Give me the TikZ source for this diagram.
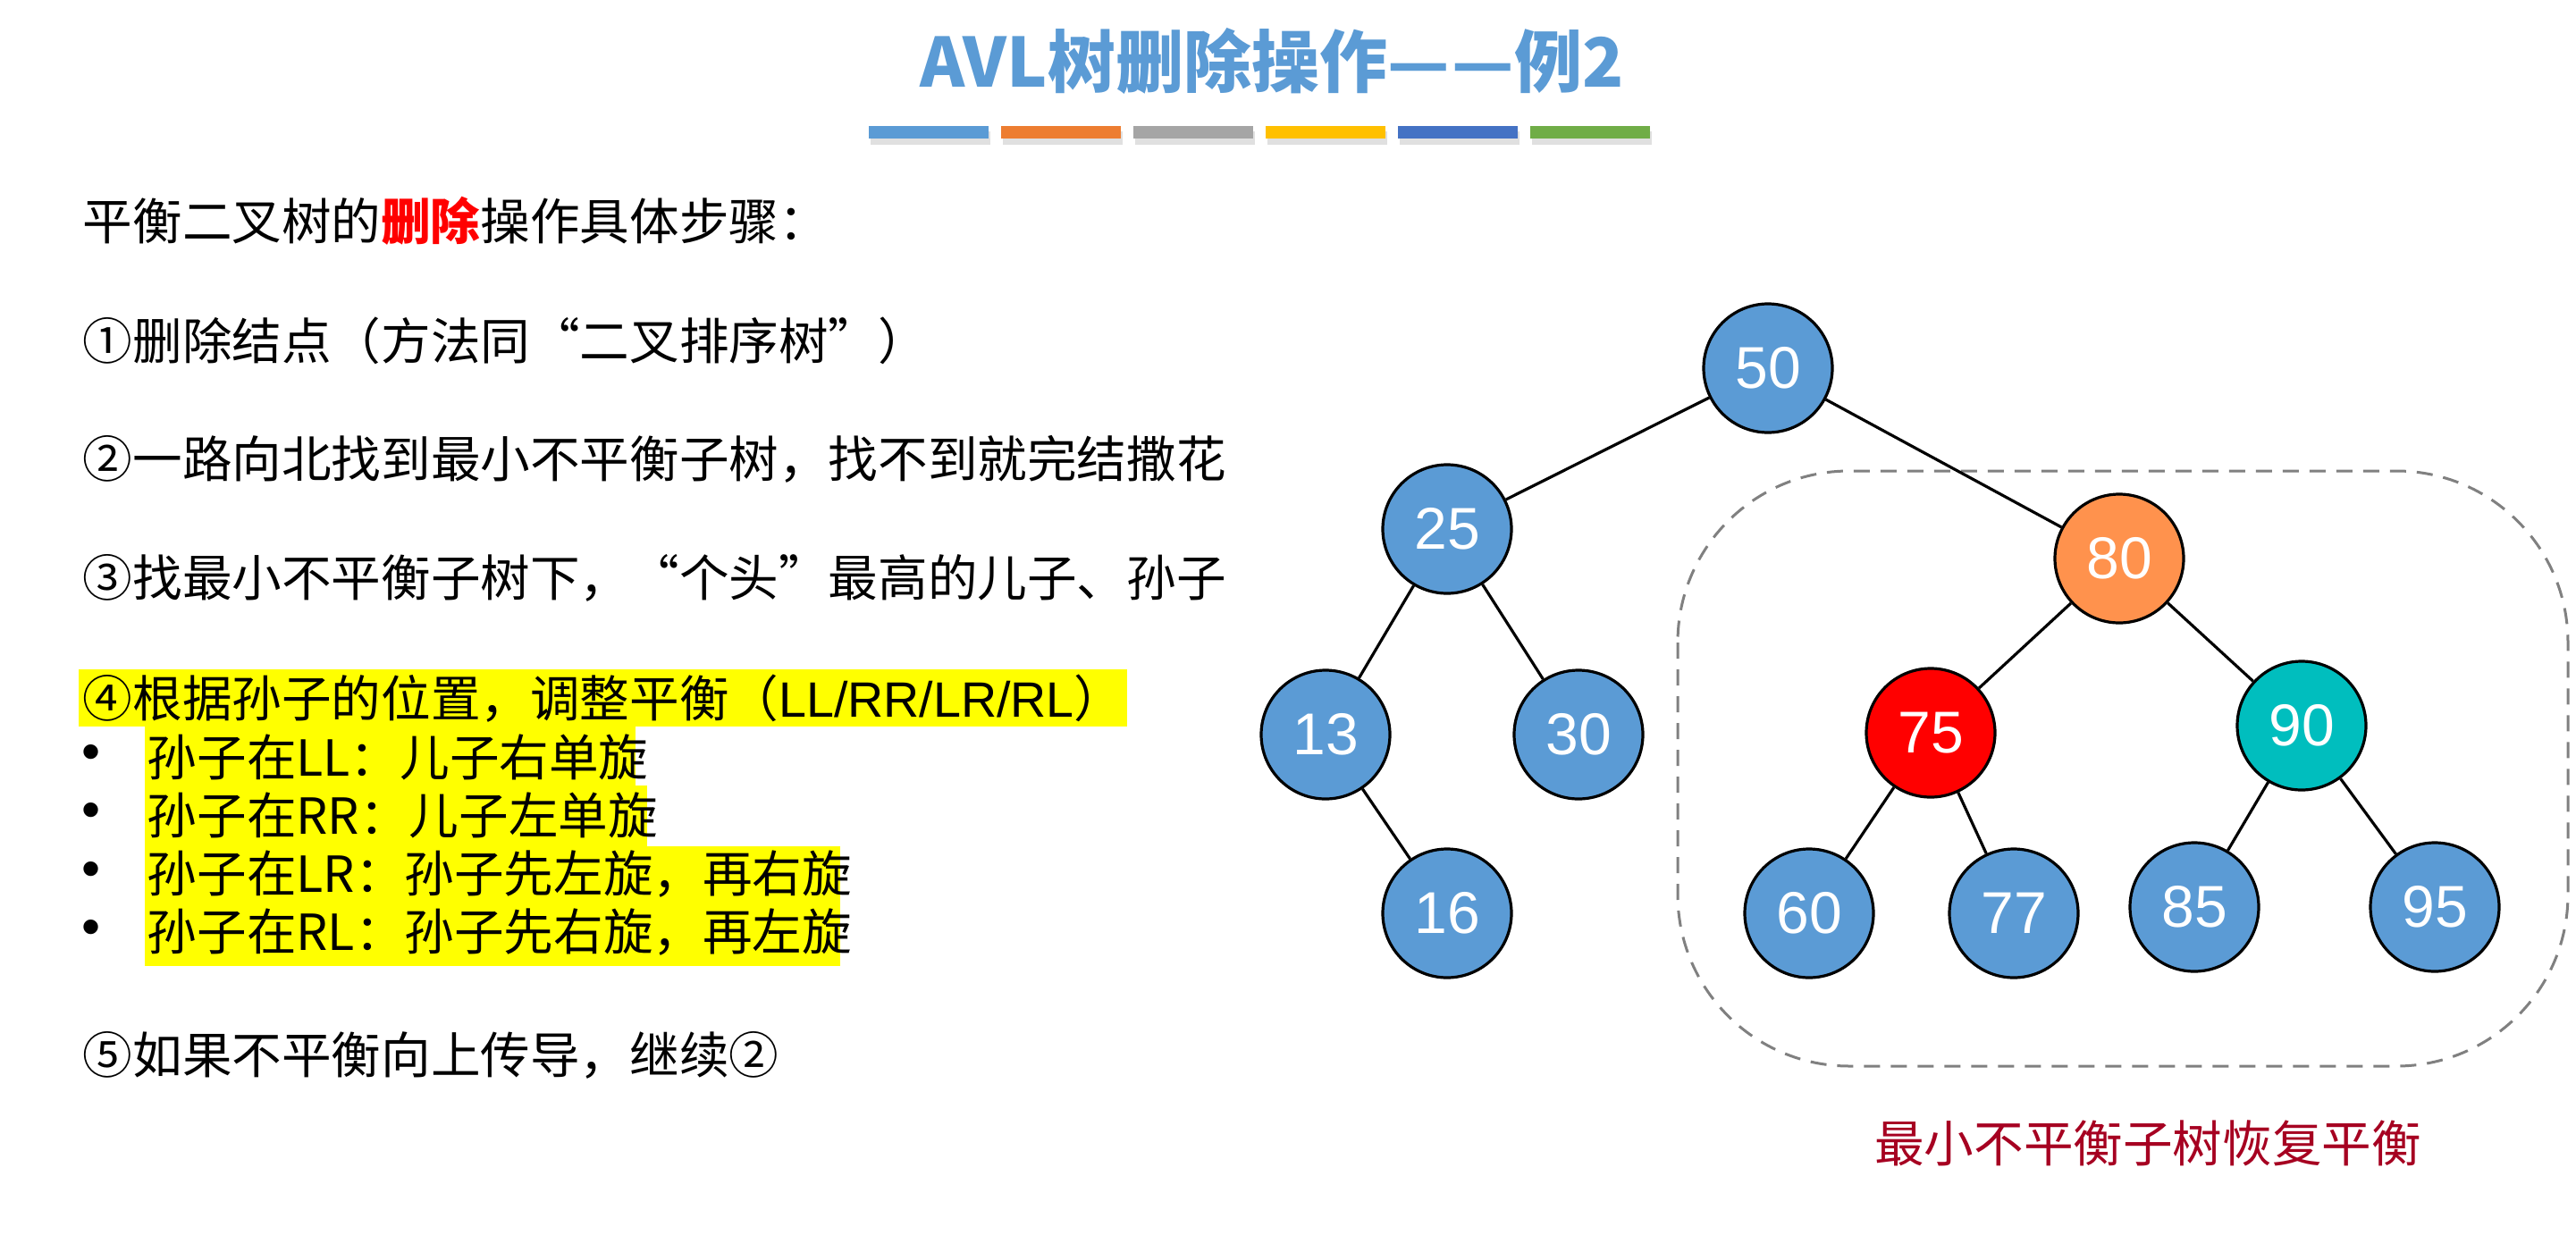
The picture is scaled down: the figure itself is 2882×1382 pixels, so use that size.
\documentclass[tikz,border=0pt]{standalone}
\usepackage{fontspec}
\setmainfont{Liberation Sans}
\newfontfamily\cjk{Noto Sans CJK SC}
\newfontfamily\lat{Liberation Sans}

\definecolor{titleblue}{RGB}{91,155,213}
\definecolor{nodeblue}{RGB}{91,155,213}
\definecolor{nodeorange}{RGB}{255,146,77}
\definecolor{nodered}{RGB}{255,0,0}
\definecolor{nodeteal}{RGB}{0,190,190}
\definecolor{capred}{RGB}{166,0,33}
\definecolor{markyellow}{RGB}{255,255,0}
\definecolor{barA}{RGB}{91,155,213}
\definecolor{barB}{RGB}{237,125,49}
\definecolor{barC}{RGB}{165,165,165}
\definecolor{barD}{RGB}{255,192,0}
\definecolor{barE}{RGB}{68,114,196}
\definecolor{barF}{RGB}{112,173,71}

\tikzset{
  titletext/.style={text=titleblue, inner sep=0pt,
    font=\cjk\bfseries\fontsize{19}{21}\selectfont},
  bodytext/.style={anchor=west, inner sep=0pt, text=black,
    font=\cjk\fontsize{13.9}{16}\selectfont},
  bulletdot/.style={anchor=center, inner sep=0pt,
    font=\lat\fontsize{15}{16}\selectfont},
  treenode/.style={circle, draw=black, line width=0.8pt, minimum size=36pt,
    inner sep=0pt, text=white, font=\lat\fontsize{16.5}{16.5}\selectfont},
  bluenode/.style={treenode, fill=nodeblue},
  treeedge/.style={line width=0.8pt, black},
  regionbox/.style={draw=black!50, line width=0.75pt,
    dash pattern=on 4.5pt off 3pt, rounded corners=48pt},
  captiontext/.style={text=capred, inner sep=0pt,
    font=\cjk\fontsize{13.9}{16}\selectfont},
  barshadow/.style={fill=black, opacity=0.12, draw=none},
  highlight/.style={fill=markyellow, draw=none}
}

\begin{document}
\begin{tikzpicture}[x=0.25pt, y=-0.25pt]
  \useasboundingbox (0,0) rectangle (2882,1382);
  \fill[white] (0,0) rectangle (2882,1382);

  % title and coloured rule
  \node[titletext] (title) at (1423,68) {AVL树删除操作—\kern0.8pt—例2};
  \foreach \c [count=\i from 0] in {barA,barB,barC,barD,barE,barF}{
    \pgfmathsetmacro{\xl}{972+\i*148}
    \fill[barshadow] (\xl+2,147) rectangle (\xl+136,162);
    \fill[\c] (\xl,141) rectangle (\xl+134,155);
  }

  % highlighted block of step 4
  \fill[highlight] (88,749) rectangle (1261,813);
  \fill[highlight] (162,813) rectangle (711,879);
  \fill[highlight] (162,879) rectangle (724,947);
  \fill[highlight] (162,947) rectangle (940,1081);

  % steps
  \node[bodytext] (s0) at (92,247) {平衡二叉树的\textcolor{red}{\bfseries 删除}操作具体步骤：};
  \node[bodytext] (s1) at (92,381) {①删除结点（方法同“二叉排序树”）};
  \node[bodytext] (s2) at (92,514) {②一路向北找到最小不平衡子树，找不到就完结撒花};
  \node[bodytext] (s3) at (92,647) {③找最小不平衡子树下，“个头”最高的儿子、孙子};
  \node[bodytext] (s4) at (92,782) {④根据孙子的位置，调整平衡（{\lat LL/RR/LR/RL}）};
  \node[bulletdot] (d1) at (102,847) {•};
  \node[bulletdot] (d2) at (102,912) {•};
  \node[bulletdot] (d3) at (102,978) {•};
  \node[bulletdot] (d4) at (102,1043) {•};
  \node[bodytext] (b1) at (164,847) {孙子在LL：儿子右单旋};
  \node[bodytext] (b2) at (164,912) {孙子在RR：儿子左单旋};
  \node[bodytext] (b3) at (164,978) {孙子在LR：孙子先左旋，再右旋};
  \node[bodytext] (b4) at (164,1043) {孙子在RL：孙子先右旋，再左旋};
  \node[bodytext] (s5) at (92,1181) {⑤如果不平衡向上传导，继续②};

  % region around the subtree that is rebalanced
  \draw[regionbox] (1877,527) rectangle (2873,1193);

  % tree
  \node[bluenode] (n50) at (1978,412) {50};
  \node[bluenode] (n25) at (1619,592) {25};
  \node[treenode, fill=nodeorange] (n80) at (2371,625) {80};
  \node[bluenode] (n13) at (1483,822) {13};
  \node[bluenode] (n30) at (1766,822) {30};
  \node[treenode, fill=nodered] (n75) at (2160,820) {75};
  \node[treenode, fill=nodeteal] (n90) at (2575,812) {90};
  \node[bluenode] (n16) at (1619,1022) {16};
  \node[bluenode] (n60) at (2024,1022) {60};
  \node[bluenode] (n77) at (2253,1022) {77};
  \node[bluenode] (n85) at (2455,1015) {85};
  \node[bluenode] (n95) at (2724,1015) {95};

  \draw[treeedge] (n50) -- (n25);
  \draw[treeedge] (n50) -- (n80);
  \draw[treeedge] (n25) -- (n13);
  \draw[treeedge] (n25) -- (n30);
  \draw[treeedge] (n13) -- (n16);
  \draw[treeedge] (n80) -- (n75);
  \draw[treeedge] (n80) -- (n90);
  \draw[treeedge] (n75) -- (n60);
  \draw[treeedge] (n75) -- (n77);
  \draw[treeedge] (n90) -- (n85);
  \draw[treeedge] (n90) -- (n95);

  \node[captiontext] (cap) at (2403,1279) {最小不平衡子树恢复平衡};
\end{tikzpicture}
\end{document}
